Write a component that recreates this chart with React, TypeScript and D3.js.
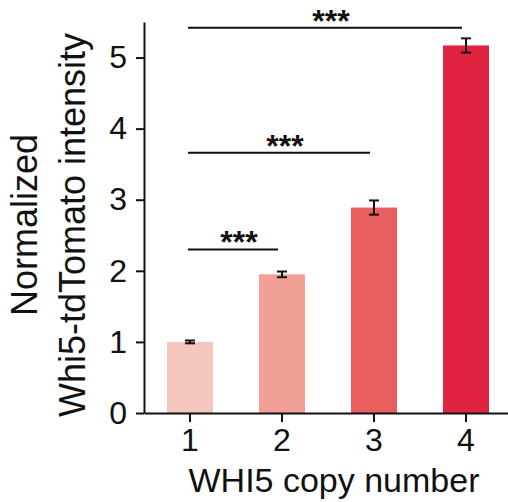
import { useEffect, useRef } from "react";
import * as d3 from "d3";

const copyNumbers = ["1", "2", "3", "4"];
const meanIntensity = [1.0, 1.95, 2.89, 5.17];
const errIntensity = [0.02, 0.04, 0.1, 0.1];
const barColors = ["#f5c6be", "#f1a096", "#e95f5f", "#e02340"];
const yTicks = [0, 1, 2, 3, 4, 5];

// significance brackets: [from, to, level]
const compFrom = ["1", "1", "1"];
const compTo = ["2", "3", "4"];
const compLevel = [2.3, 3.66, 5.42];
const compLabel = ["***", "***", "***"];

const FONT = "'Liberation Sans', Arial, Helvetica, sans-serif";

export default function App() {
  const svgRef = useRef(null);
  const width = 508;
  const height = 502;

  useEffect(() => {
    const svg = d3.select(svgRef.current);
    svg.selectAll("*").remove();

    const x = d3.scaleBand().domain(copyNumbers).range([144, 512]).paddingInner(0.5).paddingOuter(0.25);
    const y = d3.scaleLinear().domain([0, 5.5]).range([413, 22]);

    // bars
    svg.append("g")
      .selectAll("rect")
      .data(copyNumbers)
      .join("rect")
      .attr("x", d => x(d))
      .attr("y", (d, i) => y(meanIntensity[i]))
      .attr("width", x.bandwidth())
      .attr("height", (d, i) => y(0) - y(meanIntensity[i]))
      .attr("fill", (d, i) => barColors[i]);

    // error bars
    const eg = svg.append("g").attr("stroke", "#111").attr("stroke-width", 2);
    copyNumbers.forEach((d, i) => {
      const cx = x(d) + x.bandwidth() / 2;
      const lo = y(meanIntensity[i] - errIntensity[i]);
      const hi = y(meanIntensity[i] + errIntensity[i]);
      eg.append("line").attr("x1", cx).attr("x2", cx).attr("y1", lo).attr("y2", hi);
      eg.append("line").attr("x1", cx - 5).attr("x2", cx + 5).attr("y1", lo).attr("y2", lo);
      eg.append("line").attr("x1", cx - 5).attr("x2", cx + 5).attr("y1", hi).attr("y2", hi);
    });

    // y axis
    const yAxis = svg.append("g")
      .attr("transform", "translate(144,0)")
      .call(d3.axisLeft(y).tickValues(yTicks).tickFormat(d3.format("d")).tickSize(8).tickSizeOuter(0).tickPadding(9));
    yAxis.selectAll("path, line").attr("stroke", "#111").attr("stroke-width", 2);
    yAxis.selectAll("text").attr("font-size", 32).attr("font-family", FONT).attr("fill", "#111");

    // x axis
    const xAxis = svg.append("g")
      .attr("transform", "translate(0,413)")
      .call(d3.axisBottom(x).tickSize(9).tickSizeOuter(0).tickPadding(6));
    xAxis.selectAll("path, line").attr("stroke", "#111").attr("stroke-width", 2);
    xAxis.selectAll("text").attr("font-size", 32).attr("font-family", FONT).attr("fill", "#111");

    // significance brackets
    const sg = svg.append("g");
    compFrom.forEach((f, i) => {
      const x1 = x(f) + x.bandwidth() / 2 - 2;
      const x2 = x(compTo[i]) + x.bandwidth() / 2 - 4;
      const ly = y(compLevel[i]);
      sg.append("line")
        .attr("x1", x1).attr("x2", x2).attr("y1", ly).attr("y2", ly)
        .attr("stroke", "#111").attr("stroke-width", 2);
      sg.append("text")
        .text(compLabel[i])
        .attr("x", (x1 + x2) / 2 + 6)
        .attr("y", ly + 4)
        .attr("text-anchor", "middle")
        .attr("font-size", 32)
        .attr("font-weight", "bold")
        .attr("font-family", FONT)
        .attr("fill", "#111");
    });

    // x label
    svg.append("text")
      .text("WHI5 copy number")
      .attr("x", 334)
      .attr("y", 492)
      .attr("text-anchor", "middle")
      .attr("font-size", 34)
      .attr("font-family", FONT)
      .attr("fill", "#111");

    // y label (two lines)
    const yl = svg.append("text")
      .attr("transform", "translate(37,225) rotate(-90)")
      .attr("text-anchor", "middle")
      .attr("font-size", 36)
      .attr("font-family", FONT)
      .attr("fill", "#111");
    yl.append("tspan").attr("x", 0).attr("y", 0).text("Normalized");
    yl.append("tspan").attr("x", 0).attr("y", 48).text("Whi5-tdTomato intensity");
  }, []);

  return (
    <svg
      ref={svgRef}
      width={width}
      height={height}
      style={{ position: "absolute", left: 0, top: 0, background: "#fff" }}
    />
  );
}
